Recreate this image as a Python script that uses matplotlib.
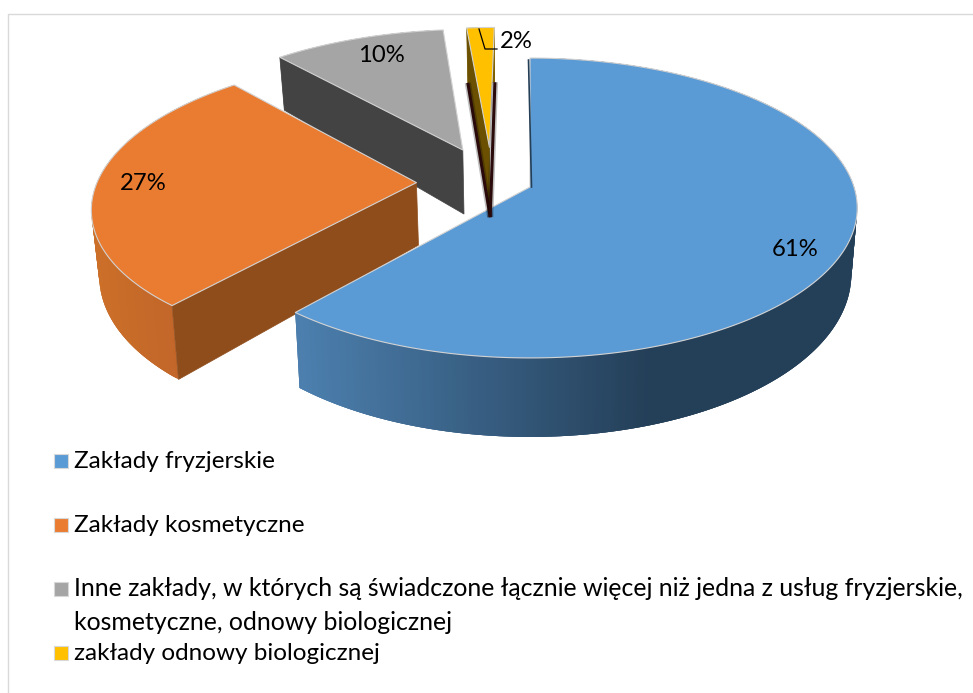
import numpy as np
import matplotlib
matplotlib.use("Agg")
import matplotlib.pyplot as plt
from matplotlib.patches import Polygon, Rectangle
from matplotlib.colors import to_rgb

categories = ["Zakłady fryzjerskie", "Zakłady kosmetyczne",
              "Inne zakłady, w których są świadczone łącznie więcej niż jedna z usług fryzjerskie,\nkosmetyczne, odnowy biologicznej",
              "zakłady odnowy biologicznej"]
values = [61.2, 27.2, 10.0, 1.6]
labels = ["61%", "27%", "10%", "2%"]

top_colors = ["#5B9BD5", "#EA7C31", "#A5A5A5", "#FFC000"]
rim_from = ["#4C7FAE", "#CB6F29", "#7A7A7A", "#BF9000"]
rim_to = ["#243F58", "#C2662A", "#555555", "#7F6000"]
rim_span = [(300, 650), (93, 175), (283, 442), (465, 493)]
cut_colors = [None, "#8F4D1C", "#434343", "#6A5000"]
explode = [(0.0, 0.0), (-0.352, 0.03), (-0.215, 0.261), (-0.13, 0.28)]
radius = [1.0, 0.99, 1.0, 1.0]
depth_base = [64, 63, 68, 74]
draw_order = [2, 3, 1, 0]
label_xy = [(795, 250), (143, 184), (381, 55), (516, 41)]

CX, CY, A, B, K, Q, SLOPE = 530, 187, 324, 147, 0.14, 0.982, 15
FONT = "Lato"
FS_LABEL = 17.2
FS_LEGEND = 17.5
FS_LONG = 17.95
LONG_GAP = 33

plt.rcParams["font.family"] = [FONT, "DejaVu Sans"]
fig = plt.figure(figsize=(9.73, 6.93), dpi=100)
ax = fig.add_axes([0, 0, 1, 1])
ax.set_xlim(0, 973)
ax.set_ylim(693, 0)
ax.axis("off")

ax.plot([7.5, 7.5, 973], [693, 13.5, 13.5], color="#D9D9D9", lw=1)


def top(u, v):
    w = 1 + K * v
    return CX + A * u / w, CY - B * v / w


def bottom(u, v, base):
    x, y = top(u, v)
    return CX + Q * (x - CX), y + base - SLOPE * v


def mix(c0, c1, t):
    t = np.clip(t, 0, 1)
    a, b = np.array(to_rgb(c0)), np.array(to_rgb(c1))
    return tuple(a + (b - a) * t)


edges = np.concatenate([[0], np.cumsum(values)]) / sum(values) * 2 * np.pi

for i in draw_order:
    du, dv = explode[i]
    base = depth_base[i]
    th = np.linspace(edges[i], edges[i + 1], max(int(values[i] * 6), 12))
    us, vs = radius[i] * np.sin(th) + du, radius[i] * np.cos(th) + dv
    rim_t = [top(a, b) for a, b in zip(us, vs)]
    rim_b = [bottom(a, b, base) for a, b in zip(us, vs)]
    # side wall: overlapping shaded strips, so that no seams show
    for k in range(len(th) - 1):
        e = min(k + 3, len(th) - 1)
        xm = (rim_t[k][0] + rim_t[k + 1][0]) / 2
        t = (xm - rim_span[i][0]) / (rim_span[i][1] - rim_span[i][0])
        col = mix(rim_from[i], rim_to[i], t)
        ax.add_patch(Polygon([rim_t[k], rim_t[e], rim_b[e], rim_b[k]],
                             closed=True, fc=col, ec="none", lw=0))
    apex_t, apex_b = top(du, dv), bottom(du, dv, base)
    if i == 3:
        # dark outline around the thin slice's hidden walls
        for p in (rim_b[0], rim_b[-1]):
            ax.plot([p[0], apex_b[0]], [p[1], apex_b[1]], color="#000000", lw=4.5, alpha=0.25,
                    solid_capstyle="butt")
            ax.plot([p[0], apex_b[0]], [p[1], apex_b[1]], color="#2A0A0A", lw=2.2,
                    solid_capstyle="butt")
    # the cut wall that faces the viewer
    if cut_colors[i] is not None:
        ax.add_patch(Polygon([apex_t, rim_t[0], rim_b[0], apex_b], closed=True,
                             fc=cut_colors[i], ec=cut_colors[i], lw=0.5))
    # top face
    ax.add_patch(Polygon([apex_t] + rim_t, closed=True, fc=top_colors[i],
                         ec="#D2D2D2", lw=0.8, joinstyle="round"))
    if i == 0:
        ax.plot([rim_t[0][0] - 1.5, apex_t[0] + 1.5], [rim_t[0][1] + 2, apex_t[1]],
                color="#243F58", lw=1.2)

for (x, y), s in zip(label_xy, labels):
    ax.text(x, y, s, ha="center", va="center", fontsize=FS_LABEL, color="#000000")

ax.plot([479, 485, 497], [29, 49, 49], color="#000000", lw=0.9)

legend_square_y = [461, 525, 589, 653]
for y, c, s in zip(legend_square_y, top_colors, categories):
    ax.add_patch(Rectangle((53.5, y - 7), 14, 14, fc=c, ec="#D8D8D8", lw=0.8))
    parts = s.split("\n")
    fs = FS_LONG if len(parts) > 1 else FS_LEGEND
    for n, part in enumerate(parts):
        ax.text(74, y + n * LONG_GAP, part, ha="left", va="center", fontsize=fs, color="#000000")

fig.savefig("out.png", dpi=100)
